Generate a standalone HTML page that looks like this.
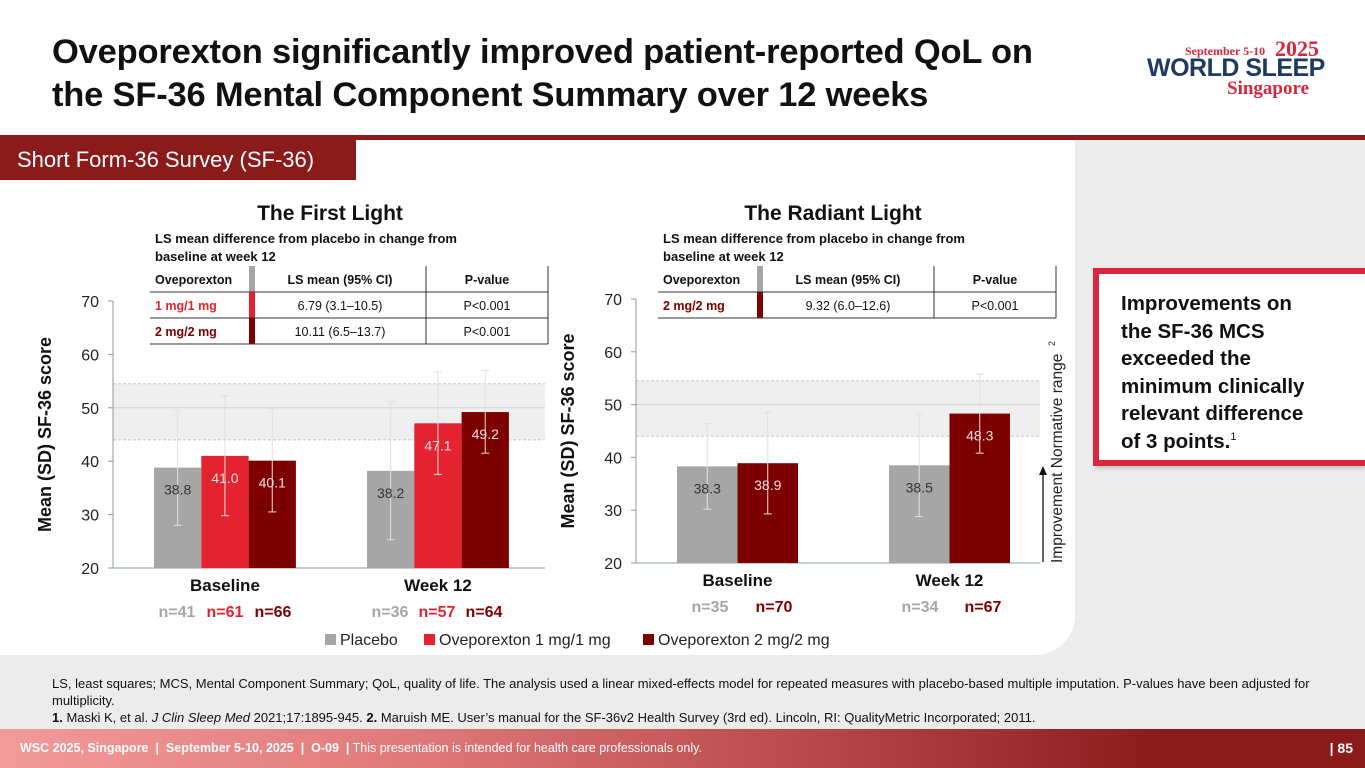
<!DOCTYPE html>
<html><head><meta charset="utf-8">
<style>
body{margin:0;width:1365px;height:768px;overflow:hidden;font-family:"Liberation Sans",sans-serif;background:#fff;position:relative}
.abs{position:absolute}
</style></head>
<body>
<div class="abs" style="left:0;top:140px;width:1365px;height:590px;background:#ececec"></div>
<div class="abs" style="left:0;top:140px;width:1075px;height:515px;background:#fff;border-bottom-right-radius:40px"></div>
<div class="abs" style="left:52px;top:31px;font-size:34.5px;font-weight:bold;line-height:43px;color:#111;letter-spacing:-0.2px">Oveporexton significantly improved patient-reported QoL on<br>the SF-36 Mental Component Summary over 12 weeks</div>
<div class="abs" style="left:1145px;top:38px;width:210px;height:65px">
  <div class="abs" style="left:40px;top:6px;font-family:'Liberation Serif',serif;font-size:12px;font-weight:bold;color:#d7263d">September 5-10</div>
  <div class="abs" style="left:130px;top:-2px;font-family:'Liberation Serif',serif;font-size:22px;font-weight:bold;color:#d7263d">2025</div>
  <div class="abs" style="left:2px;top:16px;font-size:25px;font-weight:900;color:#1c3a63;letter-spacing:-0.5px">WORLD SLEEP</div>
  <div class="abs" style="left:82px;top:40px;font-family:'Liberation Serif',serif;font-size:19px;font-weight:bold;color:#d7263d">Singapore</div>
</div>
<div class="abs" style="left:0;top:135px;width:1365px;height:5px;background:#8b1a1a"></div>
<div class="abs" style="left:0;top:140px;width:356px;height:40px;background:#8b1a1a;color:#fff;font-size:22px;line-height:40px;padding-left:17px;box-sizing:border-box">Short Form-36 Survey (SF-36)</div>

<svg class="abs" style="left:0;top:0" width="1365" height="768">
<g id="g1"></g><g id="g2"></g>
</svg>

<div class="abs" style="left:1093px;top:268px;width:272px;height:198px;background:#fff;border-left:6px solid #d7263d;border-top:6px solid #d7263d;border-bottom:6px solid #d7263d;box-sizing:border-box;box-shadow:2px 2px 4px rgba(0,0,0,.2)">
 <div style="position:absolute;left:22px;top:16px;font-size:20.5px;font-weight:bold;line-height:27.5px;color:#111">Improvements on<br>the SF-36 MCS<br>exceeded the<br>minimum clinically<br>relevant difference<br>of 3 points.<span style="font-size:11px;font-weight:normal;vertical-align:8px;line-height:0">1</span></div>
</div>

<div class="abs" style="left:52px;top:675px;width:1270px;font-size:13px;line-height:17px;color:#111">LS, least squares; MCS, Mental Component Summary; QoL, quality of life. The analysis used a linear mixed-effects model for repeated measures with placebo-based multiple imputation. P-values have been adjusted for multiplicity.<br><b>1.</b> Maski K, et al. <i>J Clin Sleep Med</i> 2021;17:1895-945. <b>2.</b> Maruish ME. User’s manual for the SF-36v2 Health Survey (3rd ed). Lincoln, RI: QualityMetric Incorporated; 2011.</div>
<div class="abs" style="left:0;top:729px;width:1365px;height:39px;background:linear-gradient(90deg,#f29a9a,#e07a7a 30%,#b8474a 60%,#8b1a1a 85%);color:#fff;font-size:12.5px;line-height:39px">
 <span style="position:absolute;left:20px"><b>WSC 2025, Singapore &nbsp;|&nbsp; September 5-10, 2025 &nbsp;|&nbsp; O-09 &nbsp;|</b> This presentation is intended for health care professionals only.</span>
 <span style="position:absolute;right:12px;font-weight:bold;font-size:14px">| 85</span>
</div>

<script>
const NS="http://www.w3.org/2000/svg";
// Chart 1 data
const c1Groups=["Baseline","Week 12"];
const c1Placebo=[38.8,38.2];
const c1Ove1=[41.0,47.1];
const c1Ove2=[40.1,49.2];
const c1ErrHi=[[49.5,52.3,49.8],[51.1,56.7,57.0]];
const c1ErrLo=[[28.0,29.8,30.5],[25.3,37.5,41.5]];
const c1N=[["n=41","n=61","n=66"],["n=36","n=57","n=64"]];
// Chart 2 data
const c2Groups=["Baseline","Week 12"];
const c2Placebo=[38.3,38.5];
const c2Ove2=[38.9,48.3];
const c2ErrHi=[[46.4,48.5],[48.2,55.8]];
const c2ErrLo=[[30.2,29.3],[28.8,40.8]];
const c2N=[["n=35","n=70"],["n=34","n=67"]];
const yTicks=[20,30,40,50,60,70];
const normBand=[44,54.5];
const COL={p:"#a6a6a6",o1:"#e3232f",o2:"#7d0000"};

function el(g,tag,attrs,text){const e=document.createElementNS(NS,tag);for(const k in attrs)e.setAttribute(k,attrs[k]);if(text!==undefined)e.textContent=text;g.appendChild(e);return e;}

function drawChart(gid,o){
 const g=document.getElementById(gid);
 const y=v=>o.y0-(v-20)*(o.y0-o.y70)/50;
 let r=el(g,"rect",{x:o.ax,y:y(normBand[1]),width:o.ax2-o.ax,height:y(normBand[0])-y(normBand[1]),fill:"#efefef"});
 
 [normBand[0],normBand[1]].forEach(v=>{let l=el(g,"line",{x1:o.ax,x2:o.ax2,y1:y(v),y2:y(v),stroke:"#c8c8c8","stroke-dasharray":"3,2"});});
 let l50=el(g,"line",{x1:o.ax,x2:o.ax2,y1:y(50),y2:y(50),stroke:"#d0d0d0"});
 
 let ax=el(g,"line",{x1:o.ax,x2:o.ax,y1:y(70),y2:y(20),stroke:"#8a9aa8"});
 
 let bx=el(g,"line",{x1:o.ax,x2:o.ax2,y1:y(20),y2:y(20),stroke:"#8a9aa8"});
 
 yTicks.forEach(t=>{
  let tk=el(g,"line",{x1:o.ax-5,x2:o.ax,y1:y(t),y2:y(t),stroke:"#8a9aa8"});
  
  let tx=el(g,"text",{x:o.ax-14,y:y(t)+6,"text-anchor":"end","font-size":16,fill:"#222"},t);
  
 });
 let yt=el(g,"text",{transform:`translate(${o.ax-62},${(y(20)+y(70))/2}) rotate(-90)`,"text-anchor":"middle","font-size":18,"font-weight":"bold",fill:"#111"},"Mean (SD) SF-36 score");
 
 o.groups.forEach((gn,gi)=>{
  o.series.forEach((s,si)=>{
   const v=s.vals[gi];const x=o.gx[gi]+si*o.bw;
   let b=el(g,"rect",{x:x,y:y(v),width:o.bw,height:y(20)-y(v),fill:s.col});
   
   const cx=x+o.bw/2;
   let e=el(g,"line",{x1:cx,x2:cx,y1:y(o.hi[gi][si]),y2:y(o.lo[gi][si]),stroke:"#e0e0e0","stroke-width":1});
   
   [o.hi[gi][si],o.lo[gi][si]].forEach(w=>{let c=el(g,"line",{x1:cx-4,x2:cx+4,y1:y(w),y2:y(w),stroke:"#e0e0e0"});});
   let lb=el(g,"text",{x:cx,y:y(v)+27,"text-anchor":"middle","font-size":14,fill:si==0?"#333":"#f3dede"},v.toFixed(1));
   
  });
  const mid=o.gx[gi]+o.series.length*o.bw/2;
  let cl=el(g,"text",{x:mid,y:y(20)+23,"text-anchor":"middle","font-size":17,"font-weight":"bold",fill:"#111"},gn);
  
  o.nx[gi].forEach((nx,ni)=>{
   let n=el(g,"text",{x:nx,y:y(20)+49,"text-anchor":"middle","font-size":16,"font-weight":"bold",fill:o.series[ni].ncol},o.n[gi][ni]);
   
  });
 });
 let tt=el(g,"text",{x:o.titleX,y:220,"text-anchor":"middle","font-size":21,"font-weight":"bold",fill:"#111"},o.title);
 
 el(g,"text",{x:o.tx,y:243,"font-size":13,"font-weight":"bold",fill:"#111"},"LS mean difference from placebo in change from");
 el(g,"text",{x:o.tx,y:261,"font-size":13,"font-weight":"bold",fill:"#111"},"baseline at week 12");
 const tx=o.tx-5,cw=o.cw,rh=26,ty=266;
 const W=cw[0]+cw[1]+cw[2];
 el(g,"rect",{x:tx,y:ty,width:W,height:rh*(1+o.rows.length),fill:"#fff"});
 el(g,"rect",{x:tx+cw[0]-5,y:ty,width:6,height:rh,fill:"#a6a6a6"});
 el(g,"text",{x:tx+5,y:ty+18,"font-size":12.5,"font-weight":"bold",fill:"#111"},"Oveporexton");
 el(g,"text",{x:tx+cw[0]+cw[1]/2,y:ty+18,"text-anchor":"middle","font-size":12.5,"font-weight":"bold",fill:"#111"},"LS mean (95% CI)");
 el(g,"text",{x:tx+cw[0]+cw[1]+cw[2]/2,y:ty+18,"text-anchor":"middle","font-size":12.5,"font-weight":"bold",fill:"#111"},"P-value");
 o.rows.forEach((rw,i)=>{
  const ry=ty+rh*(i+1);
  el(g,"line",{x1:tx,x2:tx+W,y1:ry,y2:ry,stroke:"#333"});
  el(g,"rect",{x:tx+cw[0]-5,y:ry,width:6,height:rh,fill:rw[3]});
  el(g,"text",{x:tx+5,y:ry+18,"font-size":12.5,"font-weight":"bold",fill:rw[3]},rw[0]);
  el(g,"text",{x:tx+cw[0]+cw[1]/2,y:ry+18,"text-anchor":"middle","font-size":12.5,fill:"#111"},rw[1]);
  el(g,"text",{x:tx+cw[0]+cw[1]+cw[2]/2,y:ry+18,"text-anchor":"middle","font-size":12.5,fill:"#111"},rw[2]);
 });
 const by=ty+rh*(1+o.rows.length);
 el(g,"line",{x1:tx,x2:tx+W,y1:by,y2:by,stroke:"#333"});
 el(g,"line",{x1:tx+W,x2:tx+W,y1:ty,y2:by,stroke:"#333"});
 el(g,"line",{x1:tx+cw[0]+cw[1],x2:tx+cw[0]+cw[1],y1:ty,y2:by,stroke:"#333"});
}
drawChart("g1",{ax:113,ax2:545,y0:568,y70:301,groups:c1Groups,gx:[154,367],bw:47.3,
 series:[{name:"placebo",vals:c1Placebo,col:COL.p,ncol:"#a6a6a6"},{name:"ove-1mg",vals:c1Ove1,col:COL.o1,ncol:COL.o1},{name:"ove-2mg",vals:c1Ove2,col:COL.o2,ncol:COL.o2}],
 hi:c1ErrHi,lo:c1ErrLo,n:c1N,nx:[[177,225,273],[390,437,484]],title:"The First Light",titleX:330,tx:155,cw:[104,172,122],
 rows:[["1 mg/1 mg","6.79 (3.1–10.5)","P<0.001",COL.o1],["2 mg/2 mg","10.11 (6.5–13.7)","P<0.001",COL.o2]]});
drawChart("g2",{ax:636,ax2:1040,y0:563,y70:299,groups:c2Groups,gx:[677,889],bw:60.5,
 series:[{name:"placebo",vals:c2Placebo,col:COL.p,ncol:"#a6a6a6"},{name:"ove-2mg",vals:c2Ove2,col:COL.o2,ncol:COL.o2}],
 hi:c2ErrHi,lo:c2ErrLo,n:c2N,nx:[[710,774],[920,983]],title:"The Radiant Light",titleX:833,tx:663,cw:[104,172,122],
 rows:[["2 mg/2 mg","9.32 (6.0–12.6)","P<0.001",COL.o2]]});
const s=document.querySelector("svg");
let ar=el(s,"line",{x1:1043,x2:1043,y1:562,y2:473,stroke:"#111","stroke-width":1.3});

el(s,"polygon",{points:"1039,475 1047,475 1043,466",fill:"#111"});
let an=el(s,"text",{transform:"translate(1062,563) rotate(-90)","font-size":15.5,fill:"#222"},"Improvement  Normative range");

let sp=el(s,"text",{transform:"translate(1055,346) rotate(-90)","font-size":9,fill:"#222"},"2");

const legItems=[["Placebo",COL.p,325],["Oveporexton 1 mg/1 mg",COL.o1,424],["Oveporexton 2 mg/2 mg",COL.o2,643]];
legItems.forEach(li=>{
 let r=el(s,"rect",{x:li[2],y:634,width:11,height:11,fill:li[1]});
 
 let t=el(s,"text",{x:li[2]+15,y:645,"font-size":16,fill:"#222"},li[0]);
 
});
</script>
</body></html>
